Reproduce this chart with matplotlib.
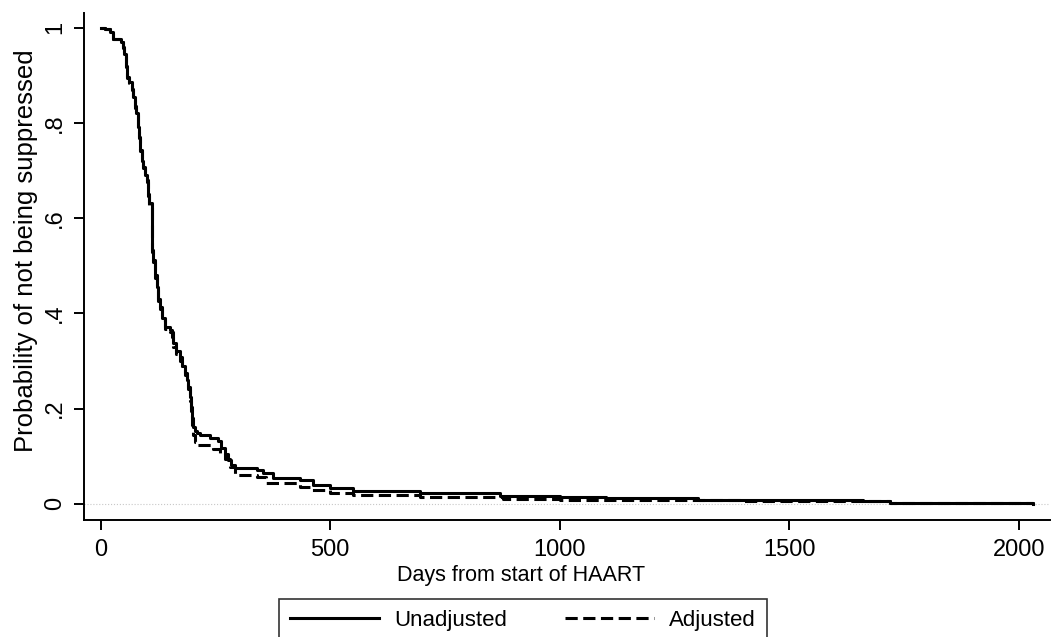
import matplotlib
matplotlib.use("Agg")
import matplotlib.pyplot as plt
from matplotlib import font_manager

plt.rcParams['font.family'] = ['Liberation Sans', 'DejaVu Sans']

# Kaplan-Meier estimates (days, survival)
unadj_days = [0, 9, 20, 27, 44, 48, 52, 55, 57, 63, 68, 71, 75, 78, 82, 84, 86, 90, 93, 97,
              101, 104, 106, 111, 112, 113, 115, 118, 122, 126, 129, 134, 140, 151, 155, 158,
              165, 173, 178, 184, 188, 191, 195, 198, 200, 202, 206, 209, 216, 238, 256, 263,
              270, 278, 285, 292, 340, 354, 376, 434, 463, 500, 549, 696, 870, 1000, 1100,
              1300, 1520, 1660, 1720, 1850, 2030]
unadj_surv = [1.0, 0.997, 0.99, 0.976, 0.97, 0.96, 0.945, 0.92, 0.897, 0.886, 0.87, 0.855,
              0.835, 0.82, 0.792, 0.77, 0.743, 0.72, 0.708, 0.69, 0.68, 0.65, 0.632, 0.617,
              0.58, 0.533, 0.512, 0.48, 0.456, 0.43, 0.414, 0.39, 0.372, 0.365, 0.35, 0.337,
              0.32, 0.309, 0.29, 0.274, 0.26, 0.246, 0.225, 0.204, 0.18, 0.162, 0.152, 0.148,
              0.145, 0.138, 0.131, 0.117, 0.105, 0.092, 0.082, 0.075, 0.07, 0.064, 0.055,
              0.05, 0.04, 0.033, 0.027, 0.022, 0.017, 0.014, 0.012, 0.009, 0.007, 0.005,
              0.002, 0.001, 0.0]

adj_days = [0, 9, 20, 27, 44, 48, 52, 55, 57, 63, 68, 71, 75, 78, 82, 84, 86, 90, 93, 97,
            101, 104, 106, 111, 112, 113, 115, 118, 122, 126, 129, 134, 140, 151, 158, 165,
            173, 178, 184, 188, 191, 195, 198, 200, 202, 206, 209, 245, 260, 270, 282, 292,
            340, 361, 434, 456, 500, 549, 696, 876, 1000, 1200, 1400, 1600, 1720, 1850, 2030]
adj_surv = [1.0, 0.997, 0.99, 0.975, 0.969, 0.958, 0.943, 0.918, 0.895, 0.884, 0.868, 0.853,
            0.832, 0.817, 0.789, 0.767, 0.74, 0.717, 0.705, 0.687, 0.676, 0.646, 0.628,
            0.612, 0.575, 0.528, 0.507, 0.475, 0.451, 0.425, 0.409, 0.385, 0.366, 0.36,
            0.33, 0.315, 0.3, 0.285, 0.27, 0.255, 0.24, 0.215, 0.195, 0.165, 0.145, 0.13,
            0.124, 0.115, 0.106, 0.095, 0.078, 0.06, 0.056, 0.043, 0.036, 0.028, 0.022,
            0.018, 0.015, 0.01, 0.009, 0.008, 0.006, 0.005, 0.002, 0.001, 0.0]

xticks = [0, 500, 1000, 1500, 2000]
yticks = [0, 0.2, 0.4, 0.6, 0.8, 1.0]
ytick_labels = ['0', '.2', '.4', '.6', '.8', '1']

# the scanned x tick labels look narrow, use the narrow face if there is one
installed = {f.name for f in font_manager.fontManager.ttflist}
if 'Liberation Sans Narrow' in installed:
    xtick_font = dict(family=['Liberation Sans Narrow', 'DejaVu Sans'], size=19)
else:
    xtick_font = dict(family=['Liberation Sans', 'DejaVu Sans'], size=17)

fig = plt.figure(figsize=(10.53, 6.37), dpi=100)
ax = fig.add_axes([0.0798, 0.1837, 0.9172, 0.7963])

ax.axhline(0, color='#c8c8c8', lw=0.8, ls=':', zorder=0)
l1, = ax.plot(unadj_days, unadj_surv, drawstyle='steps-post', color='black', lw=2.2,
              label='Unadjusted')
l2, = ax.plot(adj_days, adj_surv, drawstyle='steps-post', color='black', lw=2.2,
              dashes=(4, 1.8), label='Adjusted')

ax.set_xlim(-36, 2067)
ax.set_ylim(-0.034, 1.031)
ax.set_xticks(xticks)
ax.set_xticklabels([str(t) for t in xticks], fontdict=xtick_font)
ax.set_yticks(yticks)
ax.set_yticklabels(ytick_labels, fontsize=17)
ax.tick_params(axis='both', direction='out', length=7, width=1.4, pad=8)
ax.tick_params(axis='x', pad=7)
ax.tick_params(axis='y', pad=6)
plt.setp(ax.get_yticklabels(), rotation=90, va='center')

for side in ['top', 'right']:
    ax.spines[side].set_visible(False)
for side in ['left', 'bottom']:
    ax.spines[side].set_linewidth(1.4)

ax.set_xlabel('Days from start of HAART', fontsize=15.5)
ax.xaxis.set_label_coords(0.453, -0.0887)
ax.xaxis.label.set_va('top')
ax.set_ylabel('Probability of not being suppressed', fontsize=18.5)
ax.yaxis.set_label_coords(-0.0476, 0.53)

leg = fig.legend(handles=[l1, l2], loc='upper center', bbox_to_anchor=(523 / 1053, 38 / 637),
                 borderaxespad=0, ncol=2, frameon=True, fancybox=False, edgecolor='black',
                 fontsize=16, handlelength=4.0, columnspacing=2.6, handletextpad=0.7,
                 borderpad=0.5)
leg.get_frame().set_linewidth(1.2)

fig.savefig('out.png', dpi=100)
